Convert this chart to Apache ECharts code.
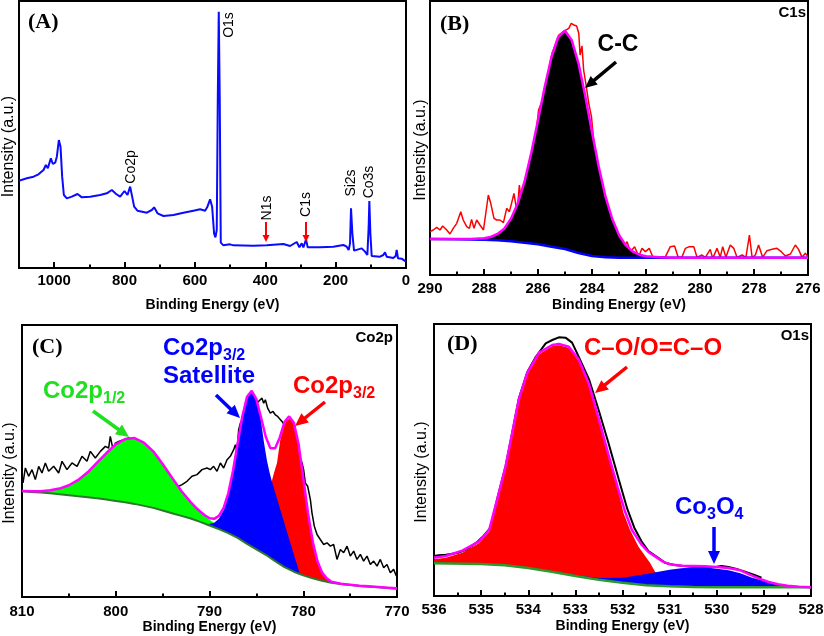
<!DOCTYPE html>
<html><head><meta charset="utf-8">
<script src="https://cdn.jsdelivr.net/npm/echarts/dist/echarts.min.js"></script>
<style>html,body{margin:0;padding:0;background:#fff}#c{width:824px;height:636px}</style>
</head><body><div id="c"></div>
<script>
// ---------- Panel A: survey spectrum ----------
const surveyE = [1100, 1096.6, 1077.7, 1058.7, 1044.5, 1030.3, 1023.7, 1018, 1009.5, 1003.8, 997.2,
  992.4, 986.7, 982, 977.3, 972.5, 964, 949.8, 933.7, 921.4, 897.7,
  869.3, 850.4, 836.2, 823.9, 812.5, 800.2, 791.7, 784.1, 778.4, 772.7,
  763.3, 736.7, 722.5, 715.9, 706.4, 689.4, 661, 632.6, 604.2, 585.2,
  571, 564.4, 556.8, 551.1, 545.5, 541.7, 537.9, 535, 532.2, 529.4,
  526.5, 519, 500, 490.5, 433.7, 395.8, 348.5, 329.5, 310.6, 303,
  296.4, 291.7, 284.1, 279.4, 244.3, 206.4, 178, 168.6, 162.9, 159.1,
  156.3, 152.5, 147.7, 125.9, 116.5, 109.8, 106.1, 104.2, 101.3, 97.5,
  73.9, 64.4, 59.7, 54.9, 36, 29.4, 26.5, 22.7, 12.3, 7.6, 0];
const surveyI = [262, 264, 269, 274, 281, 294, 309, 299, 329, 312, 316,
  334, 384, 364, 274, 219, 209, 214, 222, 212, 214,
  219, 224, 234, 222, 214, 231, 219, 244, 214, 184,
  172, 166, 174, 182, 164, 156, 159, 166, 172, 176,
  172, 184, 206, 184, 104, 92, 114, 504, 769, 504,
  76, 68, 71, 68, 67, 68, 72, 66, 78, 62,
  74, 62, 86, 62, 62, 64, 69, 64, 54, 74,
  179, 104, 52, 59, 49, 39, 124, 201, 104, 36,
  34, 39, 47, 34, 30, 36, 54, 29, 28, 32, 19];
const surveyTicks = [0, 200, 400, 600, 800, 1000];

// ---------- Panel B: C1s ----------
const c1sDataE = [290.0, 289.88, 289.75, 289.63, 289.53, 289.38, 289.26, 289.14, 289.01, 288.86,
  288.77, 288.64, 288.54, 288.46, 288.37, 288.27, 288.15, 288.02, 287.84, 287.75,
  287.63, 287.53, 287.41, 287.28, 287.16, 287.06, 286.98, 286.89, 286.81, 286.77,
  286.69, 286.64, 286.57, 286.48, 286.35, 286.22, 286.07, 285.98, 285.88, 285.79,
  285.67, 285.48, 285.23, 285.01, 284.86, 284.77, 284.67, 284.57, 284.49, 284.44,
  284.37, 284.31, 284.22, 284.12, 284.02, 283.94, 283.81, 283.63, 283.44, 283.26,
  283.11, 283.01, 282.91, 282.81, 282.70, 282.58, 282.42, 282.27, 282.15, 282.02,
  281.88, 281.75, 281.53, 281.28, 281.10, 280.94, 280.81, 280.67, 280.54, 280.40,
  280.23, 280.11, 279.93, 279.80, 279.62, 279.53, 279.37, 279.25, 279.16, 279.04,
  278.88, 278.75, 278.63, 278.44, 278.30, 278.17, 278.07, 277.95, 277.83, 277.68,
  277.52, 277.33, 277.15, 276.99, 276.84, 276.65, 276.47, 276.35, 276.22, 276.10, 276.0];
const c1sDataI = [130, 135, 143, 135, 147, 135, 123, 140, 155, 190,
  165, 145, 140, 167, 140, 165, 150, 135, 240, 215,
  170, 165, 165, 157, 200, 190, 215, 245, 205, 190,
  270, 235, 255, 275, 305, 355, 425, 495, 515, 507,
  585, 665, 720, 733, 740, 755, 750, 747, 725, 660,
  687, 615, 570, 515, 475, 405, 345, 265, 195, 145,
  110, 95, 103, 85, 100, 70, 85, 55, 80, 70,
  80, 55, 53, 55, 85, 87, 53, 53, 80, 85,
  85, 53, 60, 53, 77, 50, 80, 53, 85, 53,
  90, 80, 53, 60, 53, 120, 53, 60, 90, 53,
  73, 77, 80, 70, 57, 63, 90, 77, 53, 65, 55];
const c1sFitE = [290, 289, 288.5, 288, 287.75, 287.5, 287.25, 287, 286.75, 286.5, 286.25, 286,
  285.75, 285.5, 285.25, 285, 284.75, 284.5, 284.25, 284, 283.75, 283.5, 283.25, 283,
  282.75, 282.5, 282.25, 282, 281.5, 281, 276];
const c1sFitI = [108, 108, 108, 110, 114, 123, 139, 169, 215, 280, 366, 464,
  565, 654, 714, 733, 704, 635, 537, 429, 325, 235, 168, 120,
  89, 71, 61, 56, 53, 52, 52];
const c1sBgE = [290, 289, 288, 287.5, 287, 286.5, 286, 285.5, 285, 284.5, 284, 283.5, 283, 282.5, 282, 276];
const c1sBgI = [108, 107, 106, 104, 101, 97, 92, 85, 78, 66, 57, 53, 52, 52, 52, 52];
const c1sTicks = [276, 278, 280, 282, 284, 286, 288, 290];

// ---------- Panel C: Co2p ----------
const co2pDataE = [809.89, 809.64, 809.29, 808.93, 808.58, 808.22, 807.87, 807.51, 807.16, 806.62,
  806.09, 805.73, 805.2, 804.67, 804.13, 803.6, 803.07, 802.71, 802.18, 801.64,
  801.11, 800.76, 800.58, 800.29, 800.04, 799.69, 799.16, 798.62, 798.09, 797.38,
  796.67, 796.13, 795.6, 795.24, 794.89, 794.36, 794.0, 793.64, 793.29, 792.93,
  792.4, 791.87, 791.33, 790.8, 790.27, 789.91, 789.56, 789.2, 788.84, 788.49,
  788.13, 787.78, 787.42, 787.24, 787.07, 786.89, 786.71, 786.4, 786.0, 785.5,
  785.0, 784.7, 784.58, 784.40, 784.22, 784.04, 783.80, 783.51, 783.23, 782.98,
  782.73, 782.52, 782.27, 782.02, 781.73, 781.4, 781.0, 780.6, 780.13, 779.96,
  779.78, 779.53, 779.24, 779.07, 778.82, 778.53, 778.18, 777.82, 777.47, 777.11,
  776.76, 776.40, 776.04, 775.69, 775.33, 774.98, 774.62, 774.27, 773.91, 773.56,
  773.20, 772.84, 772.49, 772.13, 771.78, 771.42, 771.07, 770.71, 770.36, 770.07];
const co2pDataI = [343, 388, 363, 383, 353, 393, 373, 403, 378, 393,
  373, 408, 383, 403, 393, 423, 408, 438, 418, 438,
  453, 448, 483, 443, 463, 468, 473, 478, 473, 463,
  453, 433, 418, 403, 383, 373, 353, 318, 333, 338,
  348, 363, 368, 383, 388, 383, 393, 378, 403, 388,
  413, 423, 443, 458, 438, 503, 523, 540, 575, 590,
  580, 590, 593, 598, 583, 593, 568, 553, 558, 548,
  543, 548, 528, 518, 513, 505, 490, 440, 403, 383,
  343, 333, 293, 253, 213, 188, 173, 158, 163, 153,
  158, 113, 143, 133, 153, 123, 138, 113, 128, 108,
  123, 98, 108, 93, 113, 88, 98, 73, 83, 63];
const co2pBgE = [810, 809, 808, 807, 806, 805, 804, 803, 802, 801, 800, 799, 798, 797, 796, 795, 794, 793, 792, 791,
  790, 789, 788, 787, 786, 785, 784, 783, 782, 781, 780, 779, 778, 777, 776, 775, 774, 773, 772, 771, 770];
const co2pBgI = [318, 316, 314, 312, 309, 306, 303, 300, 297, 293, 289, 285, 280, 274, 268, 260, 252, 244, 236, 226,
  215, 204, 192, 178, 160, 143, 127, 108, 90, 76, 65, 56, 49, 43, 39, 36, 33, 31, 29, 27, 25];
const co2p12E = [810, 809, 808, 807, 806, 805, 804, 803, 802, 801, 800, 799, 798, 797, 796, 795, 794, 793, 792, 791,
  790, 789, 788, 787, 786, 785];
const co2p12I = [319, 318, 318, 321, 326, 336, 352, 375, 404, 433, 459, 475, 478, 464, 438, 400, 359, 319, 285, 256,
  232, 213, 196, 180, 161, 143];
const co2p32E = [785.5, 785, 784.5, 784, 783.6, 783.3, 783, 782.8, 782.45, 782.1, 781.8, 781.5, 781.2, 781, 780.5, 780,
  779.5, 779, 778.5, 778, 777.5, 777, 776.5, 776];
const co2p32I = [150, 152, 160, 210, 300, 355, 385, 403, 473, 513, 530, 536, 530, 520, 458, 358,
  254, 168, 109, 74, 56, 46, 42, 39];
const co2pSatE = [790, 789.5, 789, 788.5, 788, 787.5, 787, 786.5, 786, 785.5, 785, 784.58, 784.22, 783.87, 783.6,
  783.4, 783, 782.5, 782, 781.5, 781, 780.5, 780.3];
const co2pSatI = [220, 223, 235, 261, 308, 376, 460, 541, 600, 616, 590, 545, 470, 410, 375,
  353, 315, 268, 221, 174, 128, 82, 64];
const co2pFitE = [810, 809, 808, 807, 806, 805, 804, 803, 802, 801, 800, 799, 798, 797, 796, 795, 794, 793, 792,
  791.5, 791, 790.5, 790, 789.5, 789, 788.5, 788, 787.5, 787, 786.5, 786, 785.5, 785, 784.5, 784, 783.5, 783,
  782.5, 782, 781.5, 781, 780.5, 780, 779.5, 779, 778.5, 778, 777.5, 777, 776, 775, 774, 773, 772, 771, 770];
const co2pFitI = [319, 318, 318, 321, 326, 336, 352, 375, 404, 433, 459, 475, 478, 464, 438, 400, 359, 319, 285,
  270, 257, 246, 237, 235, 244, 267, 312, 379, 462, 543, 602, 620, 595, 540, 482, 447, 447,
  480, 527, 543, 524, 460, 358, 254, 168, 109, 74, 56, 46, 40, 37, 34, 32, 30, 28, 26];
const co2pTicks = [770, 780, 790, 800, 810];

// ---------- Panel D: O1s ----------
const o1sDataE = [536, 535.9, 535.75, 535.5, 535.3, 535.1, 534.95, 534.8, 534.66, 534.48,
  534.34, 534.2, 534.02, 533.85, 533.63, 533.49, 533.35, 533.21, 533.07, 532.93,
  532.71, 532.5, 532.29, 532.08, 531.9, 531.75, 531.6, 531.45, 531.25, 531.1,
  530.9, 530.7, 530.5, 530.25, 530, 529.9, 529.75, 529.6, 529.4, 529.2, 529.05];
const o1sDataI = [120, 122, 124, 129, 140, 160, 180, 205, 290, 390,
  490, 592, 672, 715, 758, 768, 776, 775, 760, 718,
  650, 555, 455, 350, 262, 205, 165, 135, 115, 100,
  93, 90, 88, 87, 88, 90, 87, 82, 73, 63, 55];
const o1sCOE = [536, 535.75, 535.4, 535.05, 534.83, 534.66, 534.48, 534.34, 534.2, 534.02, 533.77, 533.49, 533.35,
  533.14, 532.93, 532.71, 532.5, 532.3, 532.1, 531.98, 531.84, 531.66, 531.41, 531.31, 531.15, 531.0];
const o1sCOI = [110, 115, 130, 158, 193, 285, 385, 485, 585, 665, 725, 750, 752,
  745, 705, 630, 525, 425, 322, 250, 198, 148, 98, 73, 45, 29];
const o1sCoOE = [533.5, 533, 532.5, 532, 531.5, 531, 530.75, 530.5, 530.25, 530, 529.75, 529.5, 529.25, 529, 528.75, 528.5, 528.25, 528];
const o1sCoOI = [73, 63, 54, 55, 66, 79, 83, 86, 86, 82, 77, 68, 55, 46, 37, 31, 28, 26];
const o1sBgE = [536, 535, 534.5, 534, 533.5, 533, 532.5, 532, 531.5, 531, 530.5, 530, 528];
const o1sBgI = [98, 96, 92, 84, 73, 60, 49, 40, 32, 29, 27, 26, 26];
const o1sFitE = [536, 535.75, 535.4, 535.05, 534.83, 534.66, 534.48, 534.34, 534.2, 534.02,
  533.77, 533.49, 533.35, 533.14, 532.93, 532.71, 532.5, 532.3, 532.1, 531.95,
  531.8, 531.6, 531.45, 531.3, 531.15, 531, 530.75, 530.5, 530.25, 530,
  529.75, 529.5, 529.3, 529.1, 528.9, 528.7, 528.5, 528.25, 528];
const o1sFitI = [115, 120, 136, 163, 198, 290, 390, 490, 590, 670,
  730, 753, 756, 748, 710, 635, 530, 425, 325, 255,
  198, 155, 132, 118, 104, 95, 91, 90, 89, 87,
  84, 77, 64, 52, 42, 35, 31, 28, 26];
const o1sTicks = [528, 529, 530, 531, 532, 533, 534, 535, 536];

// ---------- build ----------
const SANS = 'Liberation Sans, Arial, sans-serif';
const SERIF = 'Liberation Serif, Times New Roman, serif';
const chart = echarts.init(document.getElementById('c'), null, {renderer: 'canvas'});

const grids = [
  {left: 19, top: 1, width: 387, height: 267},
  {left: 430, top: 1, width: 378, height: 274},
  {left: 22, top: 325, width: 375, height: 272},
  {left: 434, top: 324, width: 377, height: 272}
].map(g => Object.assign(g, {show: true, borderColor: '#000', borderWidth: 2, containLabel: false, outerBoundsMode: 'none'}));

function xAx(gi, ticks, interval, nameGap, margin) {
  const set = new Set(ticks);
  return {
    gridIndex: gi, type: 'value', inverse: true,
    min: Math.min(...ticks), max: gi === 0 ? 1100 : Math.max(...ticks), interval: interval,
    axisLine: {show: true, onZero: false, lineStyle: {color: '#000', width: 2}},
    axisTick: {show: true, inside: true, length: 6, lineStyle: {color: '#000', width: 2}},
    minorTick: {show: true, splitNumber: 2, length: 3.5, lineStyle: {color: '#000', width: 2}},
    splitLine: {show: false}, minorSplitLine: {show: false},
    axisLabel: {color: '#000', fontWeight: 'bold', fontSize: 15, fontFamily: SANS, margin: margin,
      showMinLabel: true, showMaxLabel: true, hideOverlap: false,
      formatter: v => set.has(v) ? String(v) : ''},
    name: 'Binding Energy (eV)', nameLocation: 'middle', nameGap: nameGap,
    nameTextStyle: {color: '#000', fontWeight: 'bold', fontSize: 14, fontFamily: SANS},
    z: 20
  };
}
function yAx(gi, max, nameGap) {
  return {
    gridIndex: gi, type: 'value', min: 0, max: max,
    axisLine: {show: false}, axisTick: {show: false}, axisLabel: {show: false}, splitLine: {show: false},
    name: 'Intensity (a.u.)', nameLocation: 'middle', nameGap: nameGap,
    nameTextStyle: {color: '#000', fontSize: 16, fontFamily: SANS, padding: [0, 24, 0, 0]}
  };
}
function lineS(gi, E, I, color, w, z) {
  return {type: 'line', xAxisIndex: gi, yAxisIndex: gi, data: E.map((e, i) => [e, I[i]]),
    symbol: 'none', showSymbol: false, lineStyle: {color: color, width: w}, itemStyle: {color: color},
    z: z, silent: true, animation: false, clip: true};
}
function fillS(gi, topE, topI, bgE, bgI, color, z) {
  return {type: 'custom', xAxisIndex: gi, yAxisIndex: gi, z: z, silent: true, animation: false, clip: true,
    data: [[topE[0], topI[0]]],
    renderItem: function (params, api) {
      const lo = Math.min(...topE), hi = Math.max(...topE);
      const bgAt = function (e) {
        for (let i = 0; i < bgE.length - 1; i++) {
          const a = bgE[i], b = bgE[i + 1];
          if ((e <= a && e >= b) || (e >= a && e <= b)) {
            const t = (b === a) ? 0 : (e - a) / (b - a);
            return bgI[i] + t * (bgI[i + 1] - bgI[i]);
          }
        }
        return bgI[bgI.length - 1];
      };
      const pts = topE.map((e, i) => api.coord([e, topI[i]]));
      const eStart = topE[topE.length - 1], eEnd = topE[0];
      const inner = bgE.map((e, i) => [e, bgI[i]]).filter(p => p[0] > lo && p[0] < hi);
      inner.sort((a, b) => (eStart < eEnd) ? (a[0] - b[0]) : (b[0] - a[0]));
      const bot = [api.coord([eStart, bgAt(eStart)])];
      inner.forEach(p => bot.push(api.coord(p)));
      bot.push(api.coord([eEnd, bgAt(eEnd)]));
      return {type: 'polygon', shape: {points: pts.concat(bot)}, style: {fill: color}};
    }};
}

// annotations
const G = [];
function txt(t, x, y, opts) {
  const o = Object.assign({align: 'left', va: 'middle', size: 14, weight: 'normal', family: SANS, color: '#000', rot: 0}, opts || {});
  const el = {type: 'text', x: x, y: y, rotation: o.rot, z: 50, silent: true,
    style: {text: t, fill: o.color, fontSize: o.size, fontWeight: o.weight, fontFamily: o.family,
      align: o.align, verticalAlign: o.va}};
  if (o.rich) el.style.rich = o.rich;
  G.push(el);
}
function arrow(x1, y1, x2, y2, color, w, hl, hw) {
  const dx = x2 - x1, dy = y2 - y1, L = Math.hypot(dx, dy), ux = dx / L, uy = dy / L;
  const bx = x2 - ux * hl, by = y2 - uy * hl;
  G.push({type: 'line', z: 50, silent: true, shape: {x1: x1, y1: y1, x2: bx + ux, y2: by + uy}, style: {stroke: color, lineWidth: w}});
  G.push({type: 'polygon', z: 50, silent: true, shape: {points: [[x2, y2], [bx - uy * hw / 2, by + ux * hw / 2], [bx + uy * hw / 2, by - ux * hw / 2]]}, style: {fill: color}});
}
function subRich(color, main, sub) {
  return {
    m: {fontSize: main, fontWeight: 'bold', fontFamily: SANS, fill: color, color: color, lineHeight: main + 2, verticalAlign: 'bottom', padding: [0, 0, 4, 0]},
    s: {fontSize: sub, fontWeight: 'bold', fontFamily: SANS, fill: color, color: color, lineHeight: sub + 2, verticalAlign: 'bottom'}
  };
}

// panel letters
txt('(A)', 28, 22, {size: 22, weight: 'bold', family: SERIF});
txt('(B)', 440, 24, {size: 22, weight: 'bold', family: SERIF});
txt('(C)', 32, 347, {size: 22, weight: 'bold', family: SERIF});
txt('(D)', 447, 344, {size: 22, weight: 'bold', family: SERIF});
// corner tags
txt('C1s', 806, 13, {align: 'right', size: 15, weight: 'bold'});
txt('Co2p', 393, 338, {align: 'right', size: 15, weight: 'bold'});
txt('O1s', 809, 336, {align: 'right', size: 15, weight: 'bold'});
// panel A vertical labels
const R90 = Math.PI / 2;
txt('O1s', 229.5, 25, {align: 'center', size: 14, rot: R90});
txt('Co2p', 131.5, 167, {align: 'center', size: 14, rot: R90});
txt('N1s', 266.7, 208, {align: 'center', size: 14, rot: R90});
txt('C1s', 306.3, 204.5, {align: 'center', size: 14, rot: R90});
txt('Si2s', 350.8, 183, {align: 'center', size: 14, rot: R90});
txt('Co3s', 369, 182, {align: 'center', size: 14, rot: R90});
arrow(266, 222, 266, 242, '#ff0000', 2, 7, 7);
arrow(306, 222, 306, 242, '#ff0000', 2, 7, 7);
// panel B
txt('C-C', 618, 45, {align: 'center', size: 23, weight: 'bold'});
arrow(616, 62, 585, 88, '#000', 3.5, 12, 11);
// panel C
const GREEN_T = '#1fe01f', BLUE_T = '#0000ff', RED_T = '#ff0000';
txt('{m|Co2p}{s|1/2}', 43, 394, {rich: subRich(GREEN_T, 24, 16)});
arrow(93, 411, 129, 437, GREEN_T, 3.5, 13, 12);
txt('{m|Co2p}{s|3/2}', 163, 351, {rich: subRich(BLUE_T, 24, 16)});
txt('Satellite', 163, 376, {size: 24, weight: 'bold', color: BLUE_T});
arrow(216, 395, 240, 418, BLUE_T, 3.5, 13, 12);
txt('{m|Co2p}{s|3/2}', 293, 389, {rich: subRich(RED_T, 24, 16)});
arrow(325, 402, 295, 426, RED_T, 3.5, 13, 12);
// panel D
txt('C\u2013O/O=C\u2013O', 584, 348, {size: 24, weight: 'bold', color: RED_T});
arrow(627, 367, 595, 393, RED_T, 3.5, 13, 12);
txt('{m|Co}{s|3}{m|O}{s|4}', 675, 510, {rich: subRich(BLUE_T, 24, 16)});
arrow(714, 527, 714, 564, BLUE_T, 3.5, 13, 12);

const option = {
  animation: false,
  backgroundColor: '#fff',
  grid: grids,
  xAxis: [
    xAx(0, surveyTicks, 200, 30, 5),
    xAx(1, c1sTicks, 2, 23, 6),
    xAx(2, co2pTicks, 10, 22, 7),
    xAx(3, o1sTicks, 1, 23, 6)
  ],
  yAxis: [yAx(0, 801, 2), yAx(1, 822, 1), yAx(2, 818, 4), yAx(3, 816, 4)],
  series: [
    lineS(0, surveyE, surveyI, '#0a0aff', 2, 2),
    // B
    lineS(1, c1sDataE, c1sDataI, '#ff0000', 1.5, 2),
    fillS(1, c1sFitE, c1sFitI, c1sBgE, c1sBgI, '#000000', 3),
    lineS(1, c1sBgE, c1sBgI, '#0000ff', 2.5, 4),
    lineS(1, c1sFitE, c1sFitI, '#ff00ff', 2.5, 5),
    // C
    lineS(2, co2pDataE, co2pDataI, '#000000', 1.5, 2),
    fillS(2, co2p12E, co2p12I, co2pBgE, co2pBgI, '#00ff00', 3),
    fillS(2, co2p32E, co2p32I, co2pBgE, co2pBgI, '#ff0000', 3),
    fillS(2, co2pSatE, co2pSatI, co2pBgE, co2pBgI, '#0000ff', 3),
    lineS(2, co2pBgE, co2pBgI, '#2b7a2b', 2, 4),
    lineS(2, co2pFitE, co2pFitI, '#ff00ff', 2.5, 5),
    // D
    lineS(3, o1sDataE, o1sDataI, '#000000', 2, 2),
    fillS(3, o1sCOE, o1sCOI, o1sBgE, o1sBgI, '#ff0000', 3),
    fillS(3, o1sCoOE, o1sCoOI, o1sBgE, o1sBgI, '#0000ff', 3),
    lineS(3, o1sBgE, o1sBgI, '#2a9a2a', 2.5, 4),
    lineS(3, o1sFitE, o1sFitI, '#ff00ff', 2.5, 5)
  ],
  graphic: G
};
chart.setOption(option);
</script></body></html>
